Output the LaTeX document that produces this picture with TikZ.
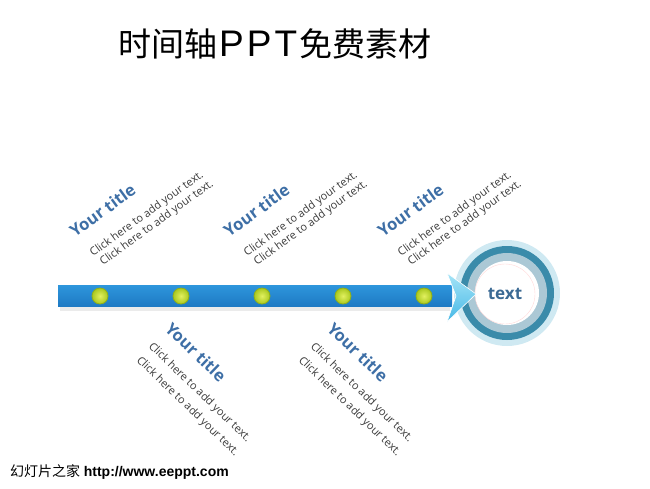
\documentclass[tikz,border=0pt]{standalone}
\usepackage{fontspec}
\setmainfont{Open Sans}
\newfontfamily\cjkfont{Noto Sans CJK SC}
\newfontfamily\arialfont{Liberation Sans}
\usetikzlibrary{positioning,calc}

\definecolor{titleblue}{HTML}{3E6FA6}
\definecolor{textgray}{HTML}{3A3A3A}
\definecolor{bandtop}{HTML}{2E96DC}
\definecolor{bandmid}{HTML}{5CC8F2}
\definecolor{bandbot}{HTML}{1E7AC4}
\definecolor{headlight}{HTML}{A6E4F7}
\definecolor{headdark}{HTML}{45B8E6}
\definecolor{dotin}{HTML}{E2F060}
\definecolor{dotout}{HTML}{A9C81E}
\definecolor{dotedge}{HTML}{8FAE1A}
\definecolor{ringglow}{HTML}{CFE9F2}
\definecolor{ringdark}{HTML}{3A8BAA}
\definecolor{ringlight}{HTML}{ABC8D5}
\definecolor{hubtext}{HTML}{3B6A94}

\begin{document}
\begin{tikzpicture}[
  x=1pt,y=-1pt,
  ytitle/.style={font=\fontsize{16.5}{16.5}\selectfont\bfseries, text=titleblue, inner sep=0pt, anchor=base west},
  ytext/.style={font=\fontsize{11}{12}\selectfont, text=textgray, inner sep=0pt, anchor=base west},
  dot/.style={circle, minimum size=16pt, inner sep=0pt, draw=dotedge, line width=0.8pt, inner color=dotin, outer color=dotout}
]
\useasboundingbox (0,0) rectangle (650,488);

% heading and footer
\node[anchor=base west, inner sep=0pt, font=\fontsize{33}{36}\selectfont] (head) at (118,56)
  {{\cjkfont 时间轴}{\arialfont\fontsize{37}{40}\selectfont\kern2pt P\kern3pt P\kern3pt T\kern2pt}{\cjkfont 免费素材}};
\node[anchor=base west, inner sep=0pt, font=\fontsize{14}{16}\selectfont] (foot) at (10,476)
  {{\cjkfont 幻灯片之家} {\arialfont\bfseries http://www.eeppt.com}};

% end circle
\fill[ringglow] (507,293) circle (53);
\fill[ringdark] (507,293) circle (47);
\fill[ringlight] (507,293) circle (40);
\fill[white] (507,293) circle (32);
\node[circle, draw=red!15, minimum size=60pt, inner sep=0pt, font=\fontsize{17}{17}\selectfont\bfseries, text=hubtext] (hub) at (505,294) {text};

% timeline arrow
\fill[black, opacity=0.08] (60,290) rectangle (450,311);
\shade[top color=bandtop, middle color=bandmid, bottom color=bandbot]
  (58,285) -- (452,285) -- (452,306) -- (58,306) -- cycle;
\shade[top color=headlight, bottom color=headdark, draw=white, line width=0.6pt]
  (447,273) -- (476,294) -- (447,322) -- (456,296) -- cycle;
\foreach \k in {0,...,4}{
  \node[dot] (d\k) at (100+81*\k,296) {};
}

% labels above the line
\foreach \i in {0,1,2}{
  \node[ytitle, rotate=36] (up\i) at (75+154*\i,238) {Your title};
  \node[ytext, rotate=36] (upa\i) at (93+154*\i,257) {Click here to add your text.};
  \node[ytext, rotate=36] (upb\i) at (103+154*\i,266) {Click here to add your text.};
}

% labels below the line
\foreach \j in {0,1}{
  \node[ytitle, rotate=-44] (lo\j) at (164+162*\j,330) {Your title};
  \node[ytext, rotate=-44] (loa\j) at (148+162*\j,347) {Click here to add your text.};
  \node[ytext, rotate=-44] (lob\j) at (136+162*\j,361) {Click here to add your text.};
}
\end{tikzpicture}
\end{document}
